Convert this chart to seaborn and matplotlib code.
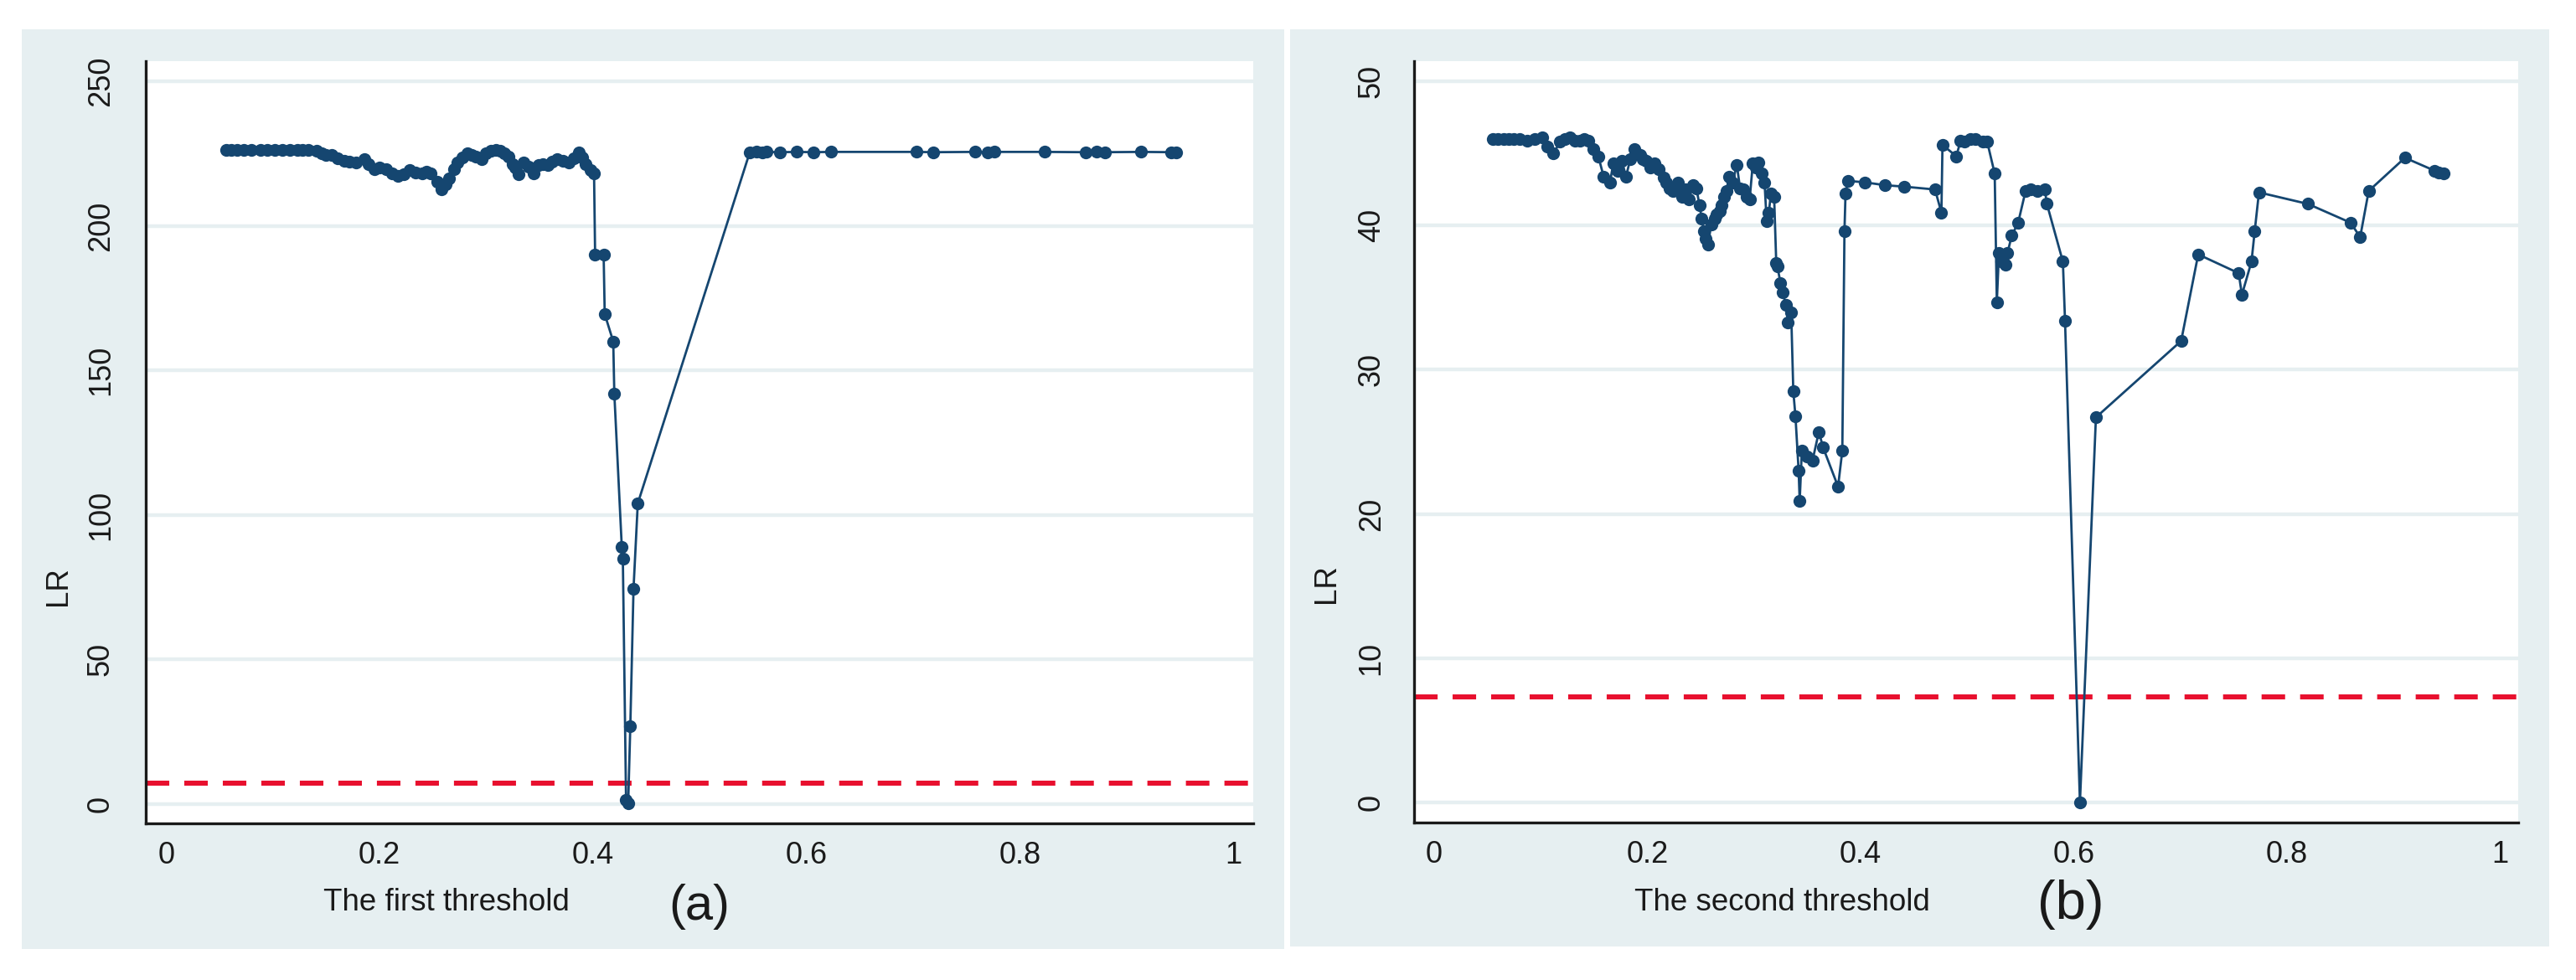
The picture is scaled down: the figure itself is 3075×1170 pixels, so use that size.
import matplotlib
matplotlib.use("Agg")
import matplotlib.pyplot as plt
from matplotlib.patches import Rectangle
import seaborn as sns
import pandas as pd

# ---------------- data ----------------
a_threshold = [0.056, 0.061, 0.066, 0.073, 0.080, 0.088, 0.095, 0.102, 0.109, 0.116,
               0.123, 0.128, 0.133, 0.141, 0.146, 0.150, 0.155, 0.161, 0.167, 0.172,
               0.178, 0.186, 0.190, 0.195, 0.200, 0.206, 0.212, 0.217, 0.223, 0.228,
               0.234, 0.240, 0.244, 0.248, 0.254, 0.258, 0.262, 0.265, 0.270, 0.273,
               0.278, 0.282, 0.286, 0.290, 0.296, 0.300, 0.304, 0.309, 0.313, 0.317,
               0.321, 0.325, 0.327, 0.330, 0.335, 0.340, 0.344, 0.349, 0.353, 0.358,
               0.362, 0.366, 0.372, 0.377, 0.382, 0.387, 0.390, 0.393, 0.398, 0.401,
               0.402, 0.410, 0.411, 0.419, 0.420, 0.427, 0.428, 0.431, 0.433, 0.435,
               0.438, 0.442, 0.547, 0.553, 0.559, 0.563, 0.575, 0.591, 0.607, 0.623,
               0.703, 0.719, 0.758, 0.770, 0.776, 0.823, 0.862, 0.872, 0.880, 0.914,
               0.942, 0.947]
a_lr = [226.4, 226.4, 226.3, 226.4, 226.3, 226.4, 226.2, 226.4, 226.3, 226.4,
        226.3, 226.4, 226.3, 226.0, 225.2, 224.6, 224.5, 223.4, 222.5, 222.3,
        222.0, 223.0, 221.5, 219.7, 220.2, 219.7, 218.3, 217.3, 218.0, 219.2,
        218.5, 218.3, 218.8, 218.3, 215.3, 212.8, 214.5, 216.3, 219.5, 222.0,
        223.8, 225.0, 224.6, 224.0, 223.0, 225.2, 226.0, 226.3, 226.0, 225.2,
        224.0, 221.5, 220.2, 217.8, 222.0, 220.5, 218.3, 221.0, 221.3, 221.0,
        222.2, 223.0, 222.4, 222.0, 223.5, 225.5, 223.8, 221.5, 219.2, 218.3,
        190.0, 190.0, 169.5, 160.0, 142.0, 89.0, 85.0, 1.5, 0.3, 27.0,
        74.5, 104.0, 225.5, 225.6, 225.5, 225.6, 225.5, 225.6, 225.5, 225.6,
        225.6, 225.5, 225.6, 225.5, 225.6, 225.6, 225.5, 225.6, 225.5, 225.6,
        225.5, 225.4]

b_threshold = [0.055, 0.060, 0.065, 0.070, 0.075, 0.080, 0.087, 0.094, 0.101, 0.106,
               0.112, 0.118, 0.123, 0.127, 0.132, 0.137, 0.141, 0.145, 0.149, 0.154,
               0.159, 0.165, 0.168, 0.172, 0.176, 0.180, 0.184, 0.188, 0.193, 0.196,
               0.199, 0.203, 0.207, 0.211, 0.215, 0.218, 0.221, 0.224, 0.229, 0.231,
               0.233, 0.236, 0.239, 0.243, 0.246, 0.249, 0.251, 0.253, 0.255, 0.257,
               0.260, 0.263, 0.265, 0.268, 0.270, 0.272, 0.274, 0.277, 0.280, 0.284,
               0.287, 0.290, 0.293, 0.296, 0.299, 0.302, 0.304, 0.307, 0.310, 0.312,
               0.314, 0.316, 0.319, 0.321, 0.322, 0.325, 0.327, 0.330, 0.332, 0.335,
               0.337, 0.339, 0.342, 0.343, 0.345, 0.350, 0.355, 0.361, 0.365, 0.379,
               0.383, 0.385, 0.386, 0.388, 0.404, 0.423, 0.441, 0.470, 0.476, 0.477,
               0.490, 0.494, 0.498, 0.503, 0.508, 0.515, 0.519, 0.526, 0.528, 0.530,
               0.532, 0.536, 0.538, 0.542, 0.548, 0.555, 0.560, 0.566, 0.573, 0.575,
               0.590, 0.592, 0.606, 0.621, 0.701, 0.717, 0.755, 0.758, 0.767, 0.770,
               0.774, 0.820, 0.860, 0.869, 0.877, 0.911, 0.939, 0.943, 0.947]
b_lr = [46.0, 46.0, 46.0, 46.0, 46.0, 46.0, 45.9, 46.0, 46.1, 45.5,
        45.0, 45.8, 46.0, 46.1, 45.9, 45.9, 46.0, 45.9, 45.3, 44.8,
        43.4, 43.0, 44.3, 43.8, 44.5, 43.4, 44.6, 45.3, 44.9, 44.6,
        44.5, 44.0, 44.3, 43.9, 43.3, 43.0, 42.6, 42.4, 43.0, 42.3,
        42.0, 42.5, 41.8, 42.8, 42.6, 41.4, 40.5, 39.6, 39.1, 38.7,
        40.1, 40.5, 40.8, 41.0, 41.4, 42.0, 42.4, 43.4, 43.0, 44.2,
        42.6, 42.5, 42.0, 41.8, 44.3, 44.0, 44.4, 43.6, 43.0, 40.3,
        40.9, 42.2, 42.0, 37.4, 37.2, 36.0, 35.4, 34.5, 33.3, 34.0,
        28.5, 26.8, 23.0, 20.9, 24.4, 24.0, 23.7, 25.7, 24.6, 21.9,
        24.4, 39.6, 42.2, 43.1, 43.0, 42.8, 42.7, 42.5, 40.9, 45.6,
        44.8, 45.9, 45.8, 46.0, 46.0, 45.8, 45.8, 43.6, 34.7, 38.1,
        37.5, 37.3, 38.1, 39.3, 40.2, 42.4, 42.5, 42.4, 42.5, 41.5,
        37.5, 33.4, 0.0, 26.7, 32.0, 38.0, 36.7, 35.2, 37.5, 39.6,
        42.3, 41.5, 40.2, 39.2, 42.4, 44.7, 43.8, 43.7, 43.6]

critical_value = 7.35
a_yticks = [0, 50, 100, 150, 200, 250]
b_yticks = [0, 10, 20, 30, 40, 50]
x_ticks = [0, 0.2, 0.4, 0.6, 0.8, 1]
x_ticklabels = ["0", "0.2", "0.4", "0.6", "0.8", "1"]
a_xlabel = "The first threshold"
b_xlabel = "The second threshold"
y_label = "LR"
panel_tags = ["(a)", "(b)"]

# ---------------- style ----------------
W, H = 3075, 1170
BG = "#E6EFF1"
GRID = "#E6EFF1"
NAVY = "#154670"
RED = "#E8102E"
INK = "#1a1a1a"

sns.set_theme(style="white")
plt.rcParams["font.family"] = ["Liberation Sans", "DejaVu Sans"]

fig = plt.figure(figsize=(W / 100, H / 100), dpi=100)
fig.patch.set_facecolor("white")


def frac(x0, y0, x1, y1):
    return [x0 / W, 1 - y1 / H, (x1 - x0) / W, (y1 - y0) / H]


for box in [(26, 35, 1533, 1133), (1540, 35, 3043, 1130)]:
    l, b, w, h = frac(*box)
    fig.patches.append(Rectangle((l, b), w, h, transform=fig.transFigure,
                                 facecolor=BG, edgecolor="none", zorder=-5))

panels = [
    dict(box=(174, 73, 1496, 983), x=a_threshold, y=a_lr, yticks=a_yticks,
         ylim=(-6.7, 257.0), xlim=(-0.0192, 1.0189), xlabel=a_xlabel,
         xlab_pos=(533, 1087), ylab_pos=(70, 700), tag_pos=(835, 1098), tag_size=43,
         ypad=16),
    dict(box=(1688, 73, 3006, 982), x=b_threshold, y=b_lr, yticks=b_yticks,
         ylim=(-1.39, 51.4), xlim=(-0.0189, 1.0173), xlabel=b_xlabel,
         xlab_pos=(2127, 1087), ylab_pos=(1583, 697), tag_pos=(2472, 1097), tag_size=47,
         ypad=14),
]

for i, p in enumerate(panels):
    ax = fig.add_axes(frac(*p["box"]))
    ax.set_zorder(1)
    ax.set_facecolor("white")
    df = pd.DataFrame({"threshold": p["x"], "LR": p["y"]})
    ax.axhline(critical_value, color=RED, lw=4.3, dashes=(4.7, 3.0), zorder=2)
    sns.lineplot(data=df, x="threshold", y="LR", ax=ax, sort=False, estimator=None,
                 color=NAVY, lw=2.0, marker="o", markersize=11, markeredgewidth=0,
                 zorder=3)
    ax.set_xlim(*p["xlim"])
    ax.set_ylim(*p["ylim"])
    ax.set_xticks(x_ticks)
    ax.set_xticklabels(x_ticklabels)
    ax.set_yticks(p["yticks"])
    ax.set_yticklabels([str(t) for t in p["yticks"]], rotation=90, va="center")
    ax.yaxis.grid(True, color=GRID, lw=3.2)
    ax.xaxis.grid(False)
    ax.set_axisbelow(True)
    for side in ["top", "right"]:
        ax.spines[side].set_visible(False)
    for side in ["left", "bottom"]:
        ax.spines[side].set_color(INK)
        ax.spines[side].set_linewidth(2.4)
    ax.tick_params(axis="both", direction="out", length=10, width=1.6, color=INK,
                   labelcolor=INK, labelsize=26)
    ax.tick_params(axis="y", pad=p["ypad"])
    ax.tick_params(axis="x", pad=5)
    ax.set_xlabel("")
    ax.set_ylabel("")
    fig.text(p["xlab_pos"][0] / W, 1 - p["xlab_pos"][1] / H, p["xlabel"],
             ha="center", va="baseline", fontsize=26.5, color=INK)
    fig.text(p["ylab_pos"][0] / W, 1 - p["ylab_pos"][1] / H, y_label,
             ha="center", va="center", rotation=90, fontsize=26.5, color=INK)
    fig.text(p["tag_pos"][0] / W, 1 - p["tag_pos"][1] / H, panel_tags[i],
             ha="center", va="baseline", fontsize=p["tag_size"], color=INK)

fig.savefig("out.png", dpi=100, facecolor="white")
